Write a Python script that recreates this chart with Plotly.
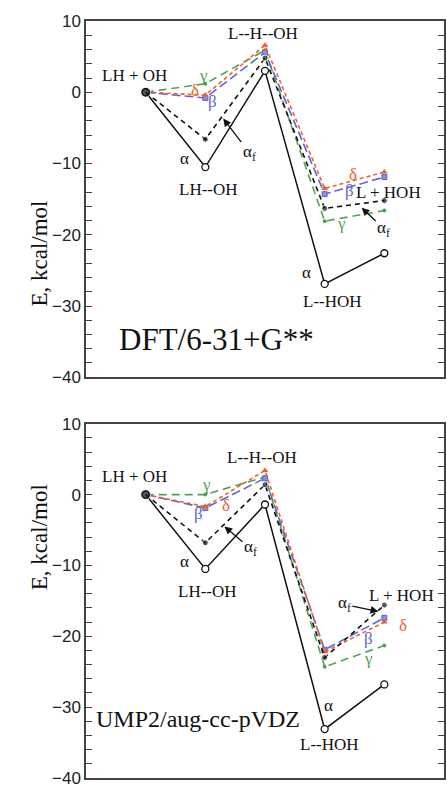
import plotly.graph_objects as go

# ---------------- data ----------------
states = ["LH + OH", "LH--OH", "L--H--OH", "L--HOH", "L + HOH"]
x_pos = [i + 1 for i in range(len(states))]

a_alpha = [0, -10.5, 3.0, -26.9, -22.6]
a_alphaf = [0, -6.6, 4.8, -16.3, -15.2]
a_beta = [0, -0.8, 5.6, -14.3, -11.9]
a_gamma = [0, 1.2, 5.9, -18.1, -16.6]
a_delta = [0, -0.4, 6.6, -13.5, -11.2]

b_alpha = [0, -10.5, -1.4, -33.1, -26.8]
b_alphaf = [0, -6.8, 1.4, -23.0, -15.6]
b_beta = [0, -1.9, 2.3, -21.9, -17.4]
b_gamma = [0, 0.0, 2.5, -24.3, -21.3]
b_delta = [0, -1.7, 3.4, -22.2, -18.0]

y_major = [-40, -30, -20, -10, 0, 10]

# ---------------- styles ----------------
BLUE = "#5a68d0"
RED = "#f0602a"
GREEN = "#4ea44e"
BLACK = "#111111"
SERIF = "Liberation Serif, Times New Roman, serif"
SANS = "Liberation Sans, Arial, sans-serif"

fig = go.Figure()


def add_panel(xa, ya, alpha, alphaf, beta, gamma, delta):
    fig.add_trace(go.Scatter(x=x_pos, y=gamma, xaxis=xa, yaxis=ya, mode="lines+markers",
                             line=dict(color=GREEN, width=1.6, dash="8px,5px"),
                             marker=dict(symbol="circle", size=4, color=GREEN)))
    fig.add_trace(go.Scatter(x=x_pos, y=beta, xaxis=xa, yaxis=ya, mode="lines+markers",
                             line=dict(color=BLUE, width=1.6, dash="9px,4px"),
                             marker=dict(symbol="square", size=5, color="#8890e0",
                                         line=dict(color=BLUE, width=1))))
    fig.add_trace(go.Scatter(x=x_pos, y=delta, xaxis=xa, yaxis=ya, mode="lines+markers",
                             line=dict(color=RED, width=1.6, dash="4px,3px"),
                             marker=dict(symbol="triangle-up", size=6, color=RED)))
    fig.add_trace(go.Scatter(x=x_pos, y=alpha, xaxis=xa, yaxis=ya, mode="lines+markers",
                             line=dict(color=BLACK, width=1.5),
                             marker=dict(symbol="circle", size=7, color="white",
                                         line=dict(color=BLACK, width=1.3))))
    fig.add_trace(go.Scatter(x=x_pos, y=alphaf, xaxis=xa, yaxis=ya, mode="lines+markers",
                             line=dict(color=BLACK, width=1.6, dash="5px,4px"),
                             marker=dict(symbol="circle", size=[10, 6, 6, 6, 6], color=BLACK)))


add_panel("x", "y", a_alpha, a_alphaf, a_beta, a_gamma, a_delta)
add_panel("x2", "y2", b_alpha, b_alphaf, b_beta, b_gamma, b_delta)

axis_common = dict(showgrid=False, zeroline=False, linecolor="#444", linewidth=1.5,
                   mirror="allticks")
xaxis_style = dict(axis_common, range=[0, 6], showticklabels=False, ticks="", mirror=True)
yaxis_style = dict(axis_common, range=[-40, 10], tickmode="array", tickvals=y_major,
                   ticks="inside", ticklen=6, tickcolor="#444",
                   tickwidth=1.2, tickfont=dict(family=SANS, size=17, color="#222"),
                   minor=dict(dtick=2, tick0=0, ticks="inside", ticklen=6,
                              tickcolor="#444", tickwidth=1.2, showgrid=False))

fig.update_layout(
    width=447, height=789,
    margin=dict(l=86, r=1, t=21, b=3),
    paper_bgcolor="white", plot_bgcolor="white",
    showlegend=False,
    xaxis=dict(xaxis_style, domain=[0, 1], anchor="y"),
    yaxis=dict(yaxis_style, domain=[0.5294, 1], anchor="x"),
    xaxis2=dict(xaxis_style, domain=[0, 1], anchor="y2"),
    yaxis2=dict(yaxis_style, domain=[0, 0.468], anchor="x2"),
)


def label(xa, ya, x, y, text, color=BLACK, size=17, **kw):
    fig.add_annotation(xref=xa, yref=ya, x=x, y=y, text=text, showarrow=False,
                       font=dict(family=SERIF, size=size, color=color), **kw)


def arrow(xa, ya, x, y, ax, ay, text):
    fig.add_annotation(xref=xa, yref=ya, x=x, y=y, ax=ax, ay=ay, text=text,
                       showarrow=True, arrowhead=2, arrowsize=1.2, arrowwidth=1.3,
                       arrowcolor=BLACK, font=dict(family=SERIF, size=17, color=BLACK))


AF = "α<sub>f</sub>"

# panel a
label("x", "y", 0.82, 2.4, states[0])
label("x", "y", 2.97, 8.3, states[2])
label("x", "y", 2.05, -13.6, states[1])
label("x", "y", 4.13, -29.4, states[3])
label("x", "y", 5.07, -14.1, states[4])
label("x", "y", 1.65, -9.3, "α")
arrow("x", "y", 2.3, -3.7, 26, 34, AF)
label("x", "y", 2.12, -1.3, "β", BLUE)
label("x", "y", 1.83, 0.2, "δ", RED)
label("x", "y", 1.97, 2.4, "γ", GREEN)
label("x", "y", 4.48, -11.5, "δ", RED)
label("x", "y", 4.42, -13.8, "β", BLUE)
label("x", "y", 4.28, -18.4, "γ", GREEN)
arrow("x", "y", 4.62, -16.2, 22, 21, AF)
label("x", "y", 3.7, -25.3, "α")
label("x", "y", 2.18, -34.7, "DFT/6-31+G**", size=31)
label("x", "y", -0.98, 8.7, "<b>a)</b>", size=25)
fig.add_annotation(xref="paper", yref="paper", x=-0.17, y=0.765, text="E, kcal/mol",
                   textangle=-90, showarrow=False,
                   font=dict(family=SERIF, size=23, color=BLACK))

# panel b
label("x2", "y2", 0.82, 2.5, states[0])
label("x2", "y2", 2.95, 5.3, states[2])
label("x2", "y2", 2.03, -13.7, states[1])
label("x2", "y2", 4.08, -35.3, states[3])
label("x2", "y2", 5.28, -14.2, states[4])
label("x2", "y2", 1.65, -9.5, "α")
arrow("x2", "y2", 2.32, -4.5, 26, 22, AF)
label("x2", "y2", 1.88, -2.6, "β", BLUE)
label("x2", "y2", 2.35, -1.5, "δ", RED)
label("x2", "y2", 2.02, 1.4, "γ", GREEN)
arrow("x2", "y2", 4.9, -16.5, -34, -7, AF)
label("x2", "y2", 5.32, -18.5, "δ", RED)
label("x2", "y2", 4.73, -20.3, "β", BLUE)
label("x2", "y2", 4.73, -23.1, "γ", GREEN)
label("x2", "y2", 4.07, -29.7, "α")
label("x2", "y2", 1.87, -31.7, "UMP2/aug-cc-pVDZ", size=24)
label("x2", "y2", -0.83, 7.7, "<b>b)</b>", size=25)
fig.add_annotation(xref="paper", yref="paper", x=-0.17, y=0.245, text="E, kcal/mol",
                   textangle=-90, showarrow=False,
                   font=dict(family=SERIF, size=23, color=BLACK))

fig.write_html(
    "out.html",
    config={"displayModeBar": False},
    post_script="document.body.style.margin='0';document.body.style.overflow='hidden';",
)
